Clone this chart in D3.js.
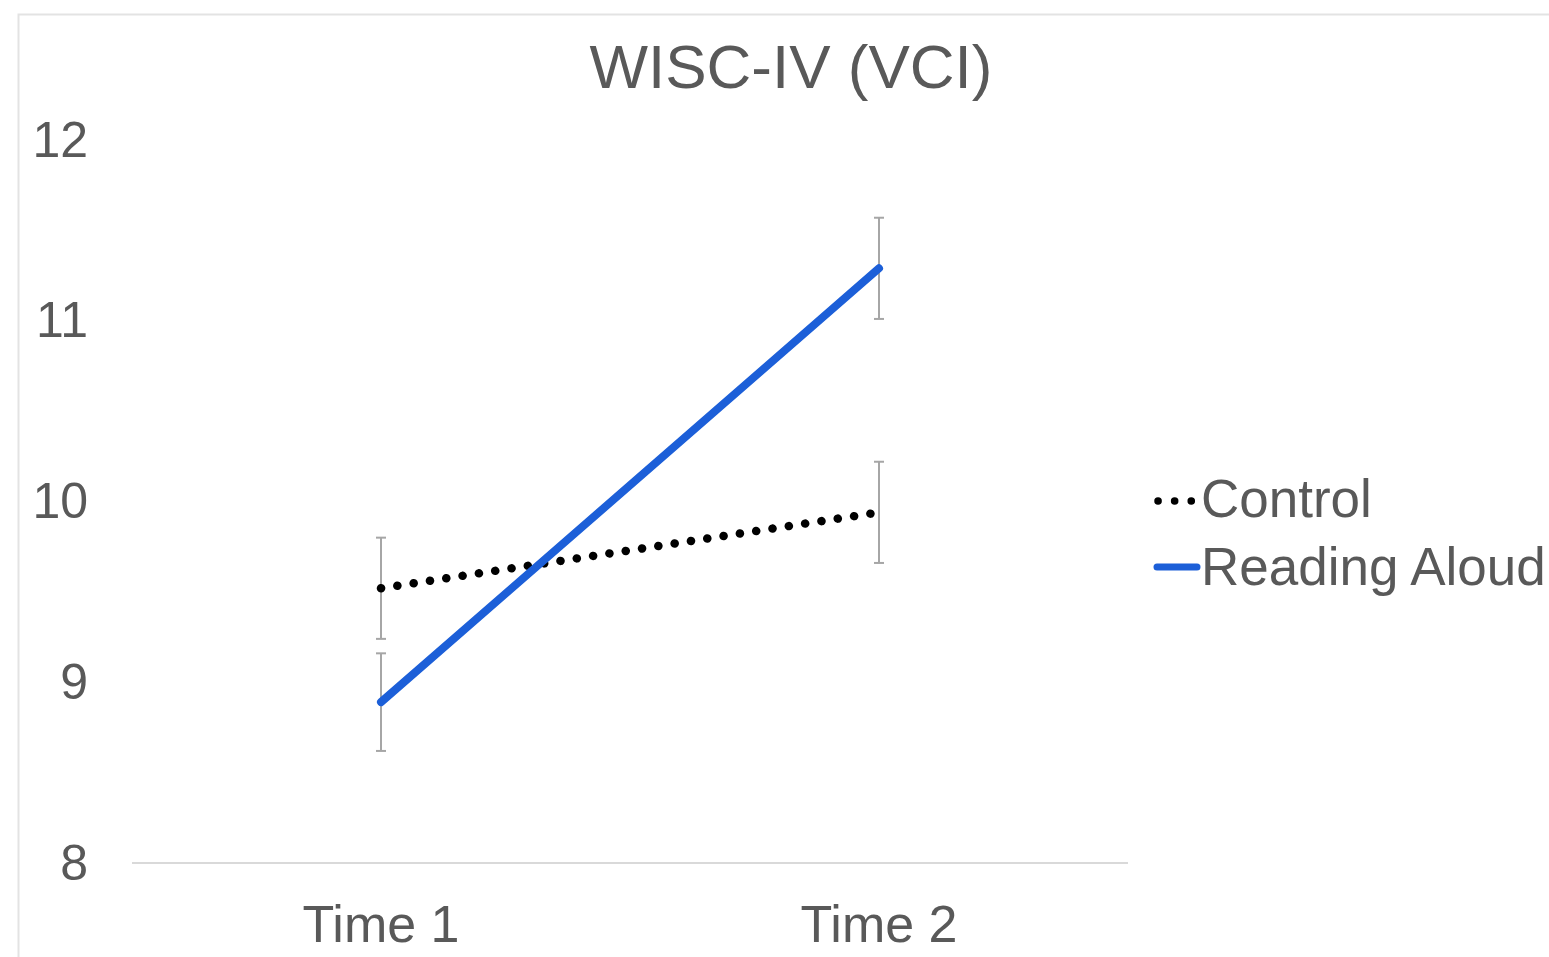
<!DOCTYPE html>
<html><head><meta charset="utf-8">
<script src="https://cdn.jsdelivr.net/npm/d3@7"></script>
<style>body{margin:0;background:#fff}svg{display:block}text{font-family:"Liberation Sans",Arial,sans-serif;fill:#595959}</style>
</head><body><svg id="c" width="1549" height="957"></svg>
<script>
const title = "WISC-IV (VCI)";
const categories = ["Time 1", "Time 2"];
const yTicks = [8, 9, 10, 11, 12];
const seriesNames = ["Control", "Reading Aloud"];
const controlValues = [9.52, 9.94];
const controlErrors = [0.28, 0.28];
const readingValues = [8.89, 11.29];
const readingErrors = [0.27, 0.28];

const svg = d3.select("#c");
const m = {left: 132, right: 1128, top: 140, bottom: 863};

svg.append("rect").attr("x", 18.5).attr("y", 14.5).attr("width", 1600).attr("height", 1000)
  .attr("fill", "#fff").attr("stroke", "#e3e3e3").attr("stroke-width", 2);

const x = d3.scaleBand().domain(categories).range([m.left, m.right]);
const y = d3.scaleLinear().domain([8, 12]).range([m.bottom, m.top]);

svg.append("line").attr("x1", m.left).attr("x2", m.right)
  .attr("y1", y(8)).attr("y2", y(8)).attr("stroke", "#d9d9d9").attr("stroke-width", 2);

const yAxis = d3.axisLeft(y).tickValues(yTicks).tickSize(0).tickPadding(0).tickFormat(d3.format("d"));
const ya = svg.append("g").attr("transform", "translate(88,0)").call(yAxis);
ya.select(".domain").remove();
ya.selectAll("text").attr("font-size", 50).attr("fill", "#595959").attr("dy", "0.32em")
  .style("font-family", '"Liberation Sans",Arial,sans-serif');

const xAxis = d3.axisBottom(x).tickSize(0).tickPadding(0);
const xa = svg.append("g").attr("transform", `translate(0,${y(8)})`).call(xAxis);
xa.select(".domain").remove();
xa.selectAll("text").attr("font-size", 52).attr("fill", "#595959").attr("dy", "0").attr("y", 79)
  .style("font-family", '"Liberation Sans",Arial,sans-serif');

svg.append("text").attr("x", 791).attr("y", 88).attr("text-anchor", "middle")
  .attr("font-size", 62).text(title);

const cx = d => x(d) + x.bandwidth() / 2;

function errorBars(vals, errs) {
  const g = svg.append("g").attr("stroke", "#a6a6a6").attr("stroke-width", 2);
  categories.forEach((c, i) => {
    const xx = cx(c);
    g.append("line").attr("x1", xx).attr("x2", xx).attr("y1", y(vals[i] + errs[i])).attr("y2", y(vals[i] - errs[i]));
    [vals[i] + errs[i], vals[i] - errs[i]].forEach(v => {
      g.append("line").attr("x1", xx - 5).attr("x2", xx + 5).attr("y1", y(v)).attr("y2", y(v));
    });
  });
}
errorBars(controlValues, controlErrors);
errorBars(readingValues, readingErrors);

const line = d3.line().x((d, i) => cx(categories[i])).y(d => y(d));

svg.append("path").datum(controlValues).attr("d", line).attr("fill", "none")
  .attr("stroke", "#000").attr("stroke-width", 8.5).attr("stroke-linecap", "round")
  .attr("stroke-dasharray", "0.1 16.4");
svg.append("path").datum(readingValues).attr("d", line).attr("fill", "none")
  .attr("stroke", "#1c5fd8").attr("stroke-width", 8).attr("stroke-linecap", "round");

const lg = svg.append("g");
lg.append("line").attr("x1", 1158).attr("x2", 1192).attr("y1", 501).attr("y2", 501)
  .attr("stroke", "#000").attr("stroke-width", 7.5).attr("stroke-linecap", "round").attr("stroke-dasharray", "0.1 16.5");
lg.append("text").attr("x", 1201).attr("y", 517).attr("font-size", 53).text(seriesNames[0]);
lg.append("line").attr("x1", 1157).attr("x2", 1197).attr("y1", 567).attr("y2", 567)
  .attr("stroke", "#1c5fd8").attr("stroke-width", 7).attr("stroke-linecap", "round");
lg.append("text").attr("x", 1201).attr("y", 585).attr("font-size", 53).text(seriesNames[1]);
</script></body></html>
